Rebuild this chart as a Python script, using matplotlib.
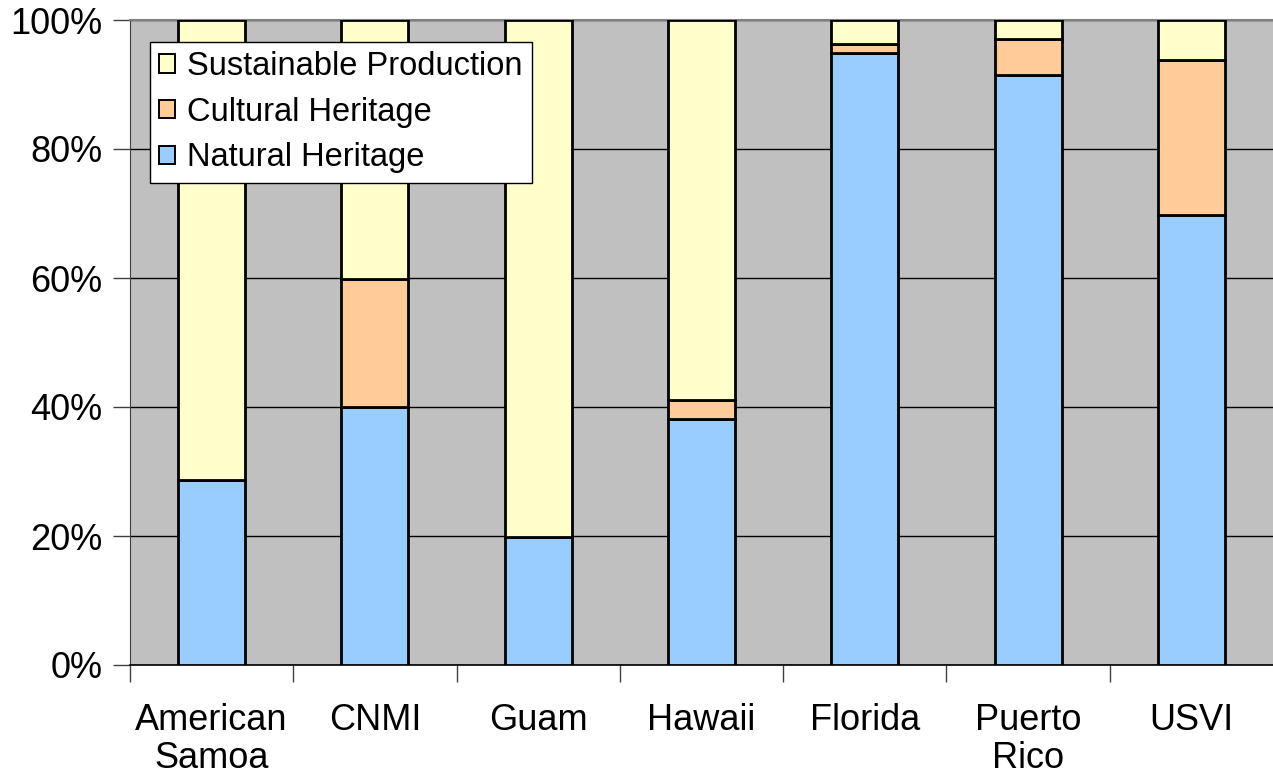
import matplotlib
matplotlib.use("Agg")
import matplotlib.pyplot as plt
import numpy as np
from matplotlib.patches import Patch

plt.rcParams['font.family'] = ['Liberation Sans', 'DejaVu Sans']

categories = ["American\nSamoa", "CNMI", "Guam", "Hawaii", "Florida", "Puerto\nRico", "USVI"]
natural = [28.7, 40.0, 19.8, 38.2, 94.9, 91.5, 69.8]
cultural = [0.0, 19.8, 0.0, 2.9, 1.4, 5.6, 24.0]
sustainable = [71.3, 40.2, 80.2, 58.9, 3.7, 2.9, 6.2]
yticks = [0, 20, 40, 60, 80, 100]
ytick_labels = ["0%", "20%", "40%", "60%", "80%", "100%"]

c_nat = "#99CCFF"
c_cul = "#FFCC99"
c_sus = "#FFFFCC"

fig = plt.figure(figsize=(12.73, 7.75), dpi=100)
ax = fig.add_axes([130/1273, 1-665/775, 1143/1273, 645/775])
ax.set_facecolor("#C0C0C0")

x = np.arange(len(categories))
w = 0.41
nat = np.array(natural); cul = np.array(cultural); sus = np.array(sustainable)
lw = 2.0
ax.bar(x, nat, w, color=c_nat, edgecolor="black", linewidth=lw, zorder=3)
ax.bar(x, cul, w, bottom=nat, color=c_cul, edgecolor="black", linewidth=lw, zorder=3)
ax.bar(x, sus, w, bottom=nat+cul, color=c_sus, edgecolor="black", linewidth=lw, zorder=3)

ax.set_xlim(-0.5, len(categories)-0.5)
ax.set_ylim(0, 100)
ax.set_yticks(yticks)
ax.set_yticklabels(ytick_labels, fontsize=26)
ax.yaxis.grid(True, color="black", linewidth=1.0, zorder=1)
ax.set_axisbelow(True)

ax.set_xticks(x)
ax.set_xticklabels(categories, fontsize=26, linespacing=1.12)
ax.tick_params(axis='x', length=0, pad=27)
ax.set_xticks(np.arange(-0.5, len(categories)-0.5, 1.0), minor=True)
ax.tick_params(axis='x', which='minor', length=12, width=1.0, color="#404040", direction='out')
ax.tick_params(axis='y', length=12, width=1.0, color="#404040", direction='out', pad=8)

ax.spines["right"].set_visible(False)
ax.spines["top"].set_color("#808080")
ax.spines["top"].set_linewidth(1.5)
ax.spines["left"].set_color("#404040")
ax.spines["bottom"].set_color("black")
ax.spines["bottom"].set_linewidth(1.2)

handles = [Patch(facecolor=c_sus, edgecolor="black", linewidth=1.4, label="Sustainable Production"),
           Patch(facecolor=c_cul, edgecolor="black", linewidth=1.4, label="Cultural Heritage"),
           Patch(facecolor=c_nat, edgecolor="black", linewidth=1.4, label="Natural Heritage")]
leg = ax.legend(handles=handles, loc="upper left", bbox_to_anchor=(0.0175, 0.966),
                fontsize=23.5, frameon=True, fancybox=False, shadow=False,
                handlelength=0.5, handleheight=0.5, handletextpad=0.35,
                borderpad=0.28, labelspacing=0.45, borderaxespad=0.0)
leg.get_frame().set_edgecolor("black")
leg.get_frame().set_linewidth(1.0)
leg.get_frame().set_alpha(1.0)
leg.set_zorder(5)

fig.savefig("out.png", dpi=100)
